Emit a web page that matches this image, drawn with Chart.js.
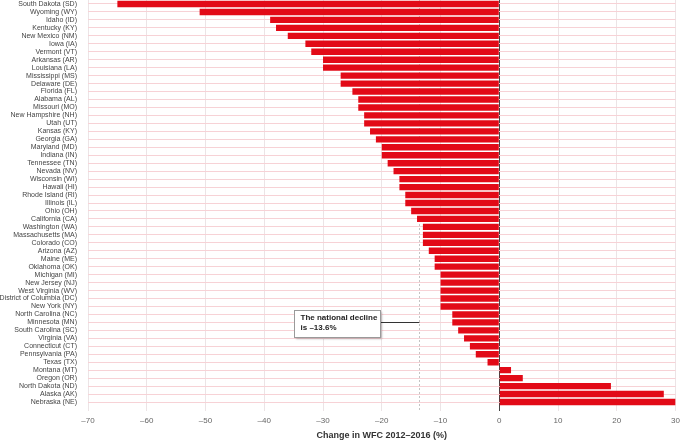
<html>
  <head>
    <title>Change in WFC 2012-2016</title>
    <script src="https://cdn.jsdelivr.net/npm/chart.js"></script>
    <style>
      body { margin: 0; background: #fff; }
      #wrap { width: 685px; height: 441px; }
    </style>
  </head>
  <body>
    <div id="wrap">
      <canvas id="wfcChart"></canvas>
    </div>

    <script>
      const states = [
        'South Dakota (SD)', 'Wyoming (WY)', 'Idaho (ID)', 'Kentucky (KY)', 'New Mexico (NM)',
        'Iowa (IA)', 'Vermont (VT)', 'Arkansas (AR)', 'Louisiana (LA)', 'Mississippi (MS)',
        'Delaware (DE)', 'Florida (FL)', 'Alabama (AL)', 'Missouri (MO)', 'New Hampshire (NH)',
        'Utah (UT)', 'Kansas (KY)', 'Georgia (GA)', 'Maryland (MD)', 'Indiana (IN)',
        'Tennessee (TN)', 'Nevada (NV)', 'Wisconsin (WI)', 'Hawaii (HI)', 'Rhode Island (RI)',
        'Illinois (IL)', 'Ohio (OH)', 'California (CA)', 'Washington (WA)', 'Massachusetts (MA)',
        'Colorado (CO)', 'Arizona (AZ)', 'Maine (ME)', 'Oklahoma (OK)', 'Michigan (MI)',
        'New Jersey (NJ)', 'West Virginia (WV)', 'District of Columbia (DC)', 'New York (NY)', 'North Carolina (NC)',
        'Minnesota (MN)', 'South Carolina (SC)', 'Virginia (VA)', 'Connecticut (CT)', 'Pennsylvania (PA)',
        'Texas (TX)', 'Montana (MT)', 'Oregon (OR)', 'North Dakota (ND)', 'Alaska (AK)',
        'Nebraska (NE)'
      ];

      const changes = [
        -65, -51, -39, -38, -36,
        -33, -32, -30, -30, -27,
        -27, -25, -24, -24, -23,
        -23, -22, -21, -20, -20,
        -19, -18, -17, -17, -16,
        -16, -15, -14, -13, -13,
        -13, -12, -11, -11, -10,
        -10, -10, -10, -10, -8,
        -8, -7, -6, -5, -4,
        -2, 2, 4, 19, 28,
        30
      ];

      const xTicks = [-70, -60, -50, -40, -30, -20, -10, 0, 10, 20, 30];
      const nationalDecline = -13.6;
      const noteLines = ['The national decline', 'is \u201313.6%'];
      const noteRow = 'Minnesota (MN)';

      const labelFont = "'Liberation Sans', sans-serif";

      // dashed national line + callout box
      const nationalNote = {
        id: 'nationalNote',
        beforeDatasetsDraw(chart) {
          const x = chart.scales.x.getPixelForValue(nationalDecline);
          const area = chart.chartArea;
          const c = chart.ctx;
          c.save();
          c.strokeStyle = '#c4c4c4';
          c.lineWidth = 1;
          c.setLineDash([2, 2]);
          c.beginPath();
          c.moveTo(Math.round(x) + 0.5, area.top);
          c.lineTo(Math.round(x) + 0.5, area.bottom + 5);
          c.stroke();
          c.restore();
        },
        afterDatasetsDraw(chart) {
          const xs = chart.scales.x;
          const ys = chart.scales.y;
          const c = chart.ctx;
          const lineY = Math.round(ys.getPixelForValue(states.indexOf(noteRow))) + 0.5;
          const boxL = Math.round(xs.getPixelForValue(-35)) + 0.5;
          const boxR = Math.round(xs.getPixelForValue(-20.3)) + 0.5;
          const boxT = lineY - 12;
          const boxB = lineY + 15;
          c.save();
          c.strokeStyle = '#333';
          c.lineWidth = 1;
          c.beginPath();
          c.moveTo(boxR, lineY);
          c.lineTo(xs.getPixelForValue(nationalDecline), lineY);
          c.stroke();
          c.shadowColor = 'rgba(0,0,0,0.25)';
          c.shadowBlur = 2;
          c.shadowOffsetX = 1;
          c.shadowOffsetY = 1;
          c.fillStyle = '#fff';
          c.fillRect(boxL, boxT, boxR - boxL, boxB - boxT);
          c.shadowColor = 'transparent';
          c.strokeStyle = '#9a9a9a';
          c.strokeRect(boxL, boxT, boxR - boxL, boxB - boxT);
          c.fillStyle = '#222';
          c.font = "bold 8px 'Liberation Sans', sans-serif";
          c.textBaseline = 'middle';
          c.fillText(noteLines[0], boxL + 6, boxT + 7.5);
          c.fillText(noteLines[1], boxL + 6, boxT + 17.5);
          c.restore();
        }
      };

      new Chart(document.getElementById('wfcChart'), {
        type: 'bar',
        data: {
          labels: states,
          datasets: [{
            label: 'Change in WFC 2012-2016 (%)',
            data: changes,
            backgroundColor: '#e20a17',
            borderWidth: 0,
            categoryPercentage: 1,
            barPercentage: 0.8
          }]
        },
        options: {
          indexAxis: 'y',
          responsive: true,
          maintainAspectRatio: false,
          animation: false,
          layout: { autoPadding: false, padding: { top: 0, right: 8, bottom: 0, left: 0 } },
          plugins: {
            legend: { display: false },
            tooltip: { enabled: false }
          },
          scales: {
            x: {
              type: 'linear',
              min: -70,
              max: 30,
              afterBuildTicks(scale) {
                scale.ticks = xTicks.map(v => ({ value: v }));
              },
              afterFit(scale) { scale.height = 35; },
              border: { display: false },
              grid: {
                color: c => c.tick && c.tick.value === 0 ? '#444' : '#ece4e6',
                tickColor: c => c.tick && c.tick.value === 0 ? '#444' : '#ece4e6',
                lineWidth: 1,
                drawTicks: true,
                tickLength: 5
              },
              ticks: {
                color: '#666',
                font: { family: labelFont, size: 8 },
                padding: 5,
                callback: v => v < 0 ? '\u2013' + Math.abs(v) : String(v)
              },
              title: {
                display: true,
                text: 'Change in WFC 2012\u20132016 (%)',
                color: '#333',
                font: { family: "'Liberation Sans', sans-serif", size: 9, weight: 'bold' },
                padding: { top: 4, bottom: 0 }
              }
            },
            y: {
              afterFit(scale) {
                scale.width = 88;
                scale.paddingTop = 0;
                scale.paddingBottom = 0;
              },
              border: { display: false },
              grid: {
                offset: false,
                color: '#f7d2d6',
                drawTicks: false
              },
              ticks: {
                color: '#444',
                autoSkip: false,
                font: { family: labelFont, size: 7 },
                padding: 11
              }
            }
          }
        },
        plugins: [nationalNote]
      });
    </script>
  </body>
</html>
